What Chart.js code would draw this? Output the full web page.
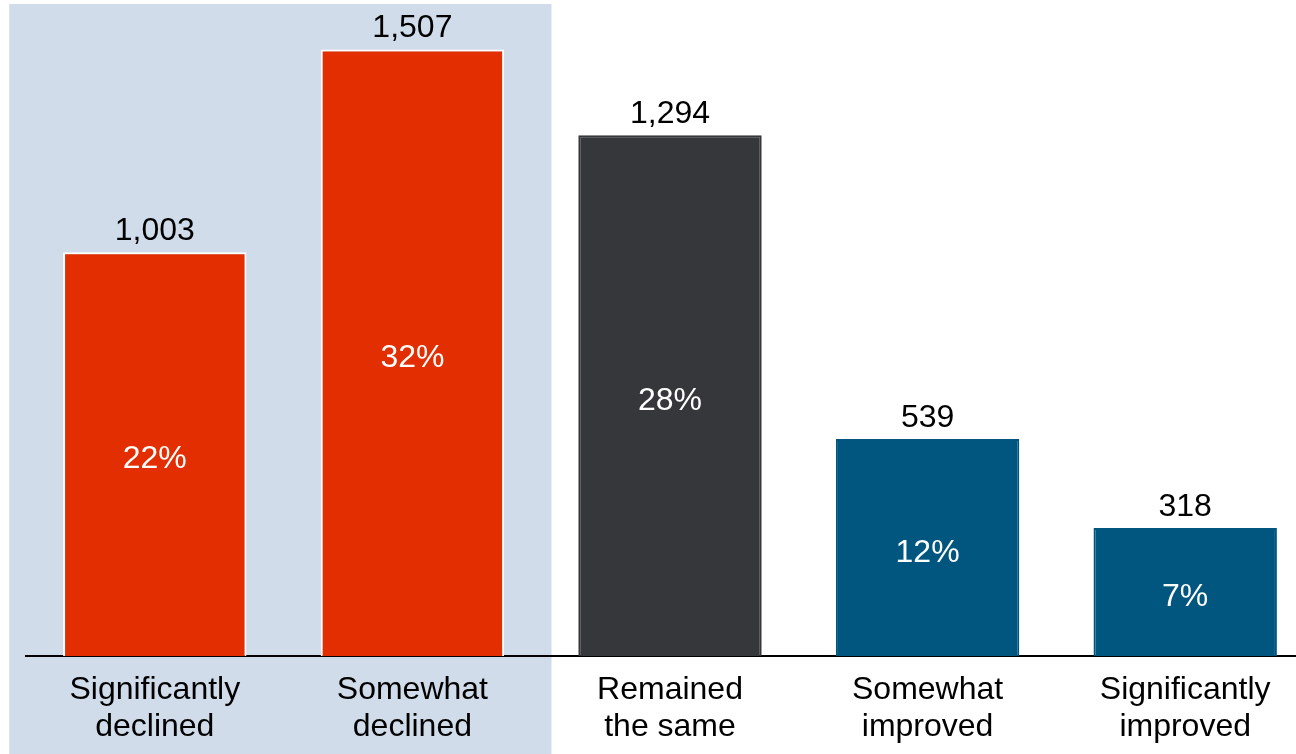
<!DOCTYPE html>
<html>
<head>
<meta charset="utf-8">
<script src="https://cdn.jsdelivr.net/npm/chart.js@4/dist/chart.umd.min.js"></script>
<style>
  html, body { margin: 0; padding: 0; background: #fff; overflow: hidden; }
  #wrap { width: 1314px; height: 754px; }
</style>
</head>
<body>
<div id="wrap"><canvas id="chart" width="1314" height="754"></canvas></div>
<script>
const categories = [
  ['Significantly', 'declined'],
  ['Somewhat', 'declined'],
  ['Remained', 'the same'],
  ['Somewhat', 'improved'],
  ['Significantly', 'improved']
];
const counts = [1003, 1507, 1294, 539, 318];
const shares = [22, 32, 28, 12, 7];
const barColors = ['#E22E00', '#E22E00', '#36373B', '#00567F', '#00567F'];
const borderColors = ['#FFFFFF', '#FFFFFF', '#36373B', '#00567F', '#00567F'];

const FONT = '"Liberation Sans", Arial, sans-serif';

// shaded band behind the two "declined" columns (drawn before axes)
const bandPlugin = {
  id: 'band',
  beforeDraw(chart) {
    const { ctx, scales: { x } } = chart;
    const step = x.getPixelForValue(1) - x.getPixelForValue(0);
    const left = x.getPixelForValue(0) - step * 0.565;
    const right = x.getPixelForValue(1) + step * 0.54;
    ctx.save();
    ctx.fillStyle = '#D0DCEA';
    ctx.fillRect(left, 4, right - left, chart.height - 4);
    ctx.restore();
  }
};

// count above each bar, share inside it
const labelPlugin = {
  id: 'barLabels',
  afterDatasetsDraw(chart) {
    const { ctx } = chart;
    const meta = chart.getDatasetMeta(0);
    ctx.save();
    ctx.font = '32px ' + FONT;
    ctx.textAlign = 'center';
    ctx.textBaseline = 'alphabetic';
    meta.data.forEach((bar, i) => {
      ctx.fillStyle = '#000';
      ctx.fillText(counts[i].toLocaleString('en-US'), bar.x, bar.y - 12);
      ctx.fillStyle = '#fff';
      ctx.fillText(shares[i] + '%', bar.x, (bar.y + bar.base) / 2 + 14);
    });
    ctx.restore();
  }
};

new Chart(document.getElementById('chart'), {
  type: 'bar',
  data: {
    labels: categories,
    datasets: [{
      data: counts,
      backgroundColor: barColors,
      borderColor: borderColors,
      borderWidth: 2,
      borderSkipped: 'bottom',
      barPercentage: 0.712,
      categoryPercentage: 1
    }]
  },
  options: {
    responsive: false,
    devicePixelRatio: 1,
    animation: false,
    layout: { padding: { top: 12, left: 26, right: 0, bottom: 0 } },
    plugins: { legend: { display: false }, tooltip: { enabled: false } },
    scales: {
      y: { display: false, min: 0, max: 1600 },
      x: {
        grid: { display: false },
        border: { display: true, color: '#000', width: 2 },
        ticks: {
          color: '#000',
          font: { family: FONT, size: 32, lineHeight: 1.15 },
          padding: 8,
          maxRotation: 0,
          autoSkip: false
        },
        afterFit(scale) { scale.height = 98; }
      }
    }
  },
  plugins: [bandPlugin, labelPlugin]
});
</script>
</body>
</html>
